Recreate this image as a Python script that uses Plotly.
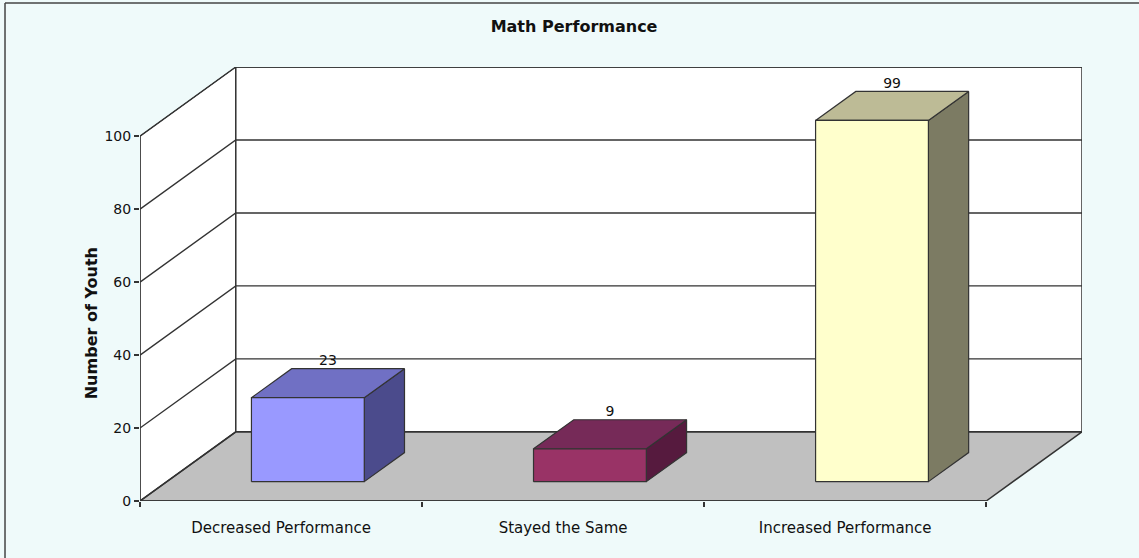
import plotly.graph_objects as go

# data
categories = ["Decreased Performance", "Stayed the Same", "Increased Performance"]
values = [23, 9, 99]
y_ticks = [0, 20, 40, 60, 80, 100]

front_colors = ["#9999ff", "#993366", "#ffffcc"]
top_colors = ["#7070c4", "#762a58", "#bdbb96"]
side_colors = ["#4b4b8c", "#561a3e", "#7c7b63"]

# fake 3d projection (depth offset in axis units)
DX = 0.3396   # categories
DY = 18.96    # value units
F0, F1 = 0.28, 0.70   # bar front/back depth
BW = 0.40
LINE = "#333333"
FONT = "DejaVu Sans"


def proj(x, y, f):
    return x + f * DX, y + f * DY


def poly(pts, fill, width=1.2):
    xs = [p[0] for p in pts] + [pts[0][0]]
    ys = [p[1] for p in pts] + [pts[0][1]]
    return go.Scatter(x=xs, y=ys, mode="lines", fill="toself", fillcolor=fill,
                      line=dict(color=LINE, width=width), hoverinfo="skip", showlegend=False)


n = len(categories)
ymax = y_ticks[-1]
fig = go.Figure()

# walls and floor
fig.add_trace(poly([proj(0, 0, 0), proj(0, 0, 1), proj(0, ymax, 1), proj(0, ymax, 0)], "white", 1))
fig.add_trace(poly([proj(0, 0, 1), proj(n, 0, 1), proj(n, ymax, 1), proj(0, ymax, 1)], "white", 1.5))
fig.add_trace(poly([proj(0, 0, 0), proj(n, 0, 0), proj(n, 0, 1), proj(0, 0, 1)], "#c0c0c0", 1.5))

# gridlines
gx, gy = [], []
for v in y_ticks:
    a = proj(0, v, 0)
    b = proj(0, v, 1)
    c = proj(n, v, 1)
    gx += [a[0], b[0], c[0], None]
    gy += [a[1], b[1], c[1], None]
fig.add_trace(go.Scatter(x=gx, y=gy, mode="lines", line=dict(color=LINE, width=1.4),
                         hoverinfo="skip", showlegend=False))

# front axis lines
fig.add_trace(go.Scatter(x=[0, 0], y=[0, ymax], mode="lines", line=dict(color=LINE, width=1.5),
                         hoverinfo="skip", showlegend=False))
fig.add_trace(go.Scatter(x=[0, n], y=[0, 0], mode="lines", line=dict(color=LINE, width=1.5),
                         hoverinfo="skip", showlegend=False))

# bars
for i, v in enumerate(values):
    x0 = i + 0.5 - BW / 2
    x1 = i + 0.5 + BW / 2
    side = [proj(x1, 0, F0), proj(x1, 0, F1), proj(x1, v, F1), proj(x1, v, F0)]
    top = [proj(x0, v, F0), proj(x1, v, F0), proj(x1, v, F1), proj(x0, v, F1)]
    front = [proj(x0, 0, F0), proj(x1, 0, F0), proj(x1, v, F0), proj(x0, v, F0)]
    fig.add_trace(poly(side, side_colors[i]))
    fig.add_trace(poly(top, top_colors[i]))
    fig.add_trace(poly(front, front_colors[i]))

# value labels
lx = [i + 0.5 + 0.49 * DX for i in range(n)]
ly = [v + F1 * DY for v in values]
fig.add_trace(go.Scatter(x=lx, y=ly, mode="text", text=[str(v) for v in values],
                         textposition="top center", textfont=dict(family=FONT, size=14, color="#111"),
                         hoverinfo="skip", showlegend=False))

fig.update_layout(
    width=1139, height=558,
    margin=dict(l=140, r=57, t=67, b=57),
    paper_bgcolor="#effafa", plot_bgcolor="#effafa",
    font=dict(family=FONT, size=14, color="#111"),
    title=dict(text="<b>Math Performance</b>", x=0.504, xanchor="center", y=0.952, yanchor="middle",
               font=dict(family=FONT, size=16, color="#111")),
    showlegend=False,
)
fig.update_xaxes(range=[0, n + DX], showgrid=False, zeroline=False, showline=False,
                 tickvals=[i + 0.5 for i in range(n)], ticktext=categories,
                 ticks="outside", ticklen=13, tickcolor="rgba(0,0,0,0)",
                 tickfont=dict(family=FONT, size=15, color="#111"),
                 minor=dict(tickvals=list(range(n + 1)), ticks="outside", ticklen=5,
                            tickcolor=LINE, tickwidth=1.5, showgrid=False))
fig.update_yaxes(range=[0, ymax + DY], showgrid=False, zeroline=False, showline=False,
                 tickvals=y_ticks, ticks="outside", ticklen=5, tickcolor=LINE, tickwidth=1.5,
                 tickfont=dict(family=FONT, size=14, color="#111"))

fig.add_annotation(text="<b>Number of Youth</b>", xref="paper", yref="paper",
                   x=-0.064, y=0.41, textangle=-90, showarrow=False,
                   font=dict(family=FONT, size=16, color="#111"))

# chart border (left and top edges visible)
fig.add_shape(type="line", xref="paper", yref="paper", x0=-0.1433, x1=-0.1433, y0=1.1475, y1=-0.2,
              line=dict(color="#444", width=1.5))
fig.add_shape(type="line", xref="paper", yref="paper", x0=-0.1433, x1=1.1, y0=1.1475, y1=1.1475,
              line=dict(color="#444", width=1.5))

fig.write_html("out.html", config={"displayModeBar": False},
               post_script="document.body.style.margin='0';")
